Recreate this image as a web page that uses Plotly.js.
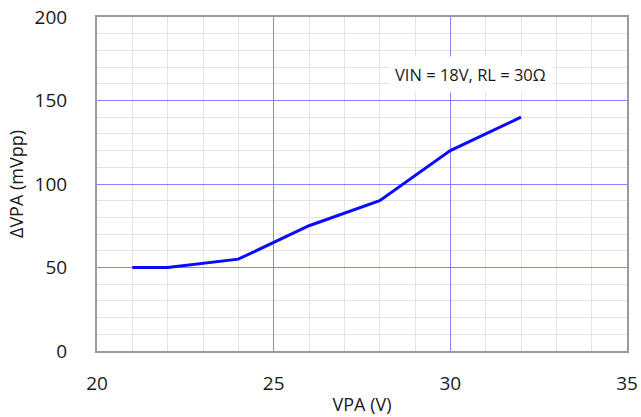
<!DOCTYPE html>
<html><head><meta charset="utf-8">
<script src="https://cdn.plot.ly/plotly-3.0.1.min.js"></script>
<style>html,body{margin:0;padding:0;background:#fff}#chart{width:641px;height:417px}</style>
</head><body><div id="chart"></div>
<script>
var vpa = [21, 22, 24, 26, 28, 30, 32];
var ripple = [50, 50, 55, 75, 90, 120, 140];
var xTicks = [20, 25, 30, 35];
var yTicks = [0, 50, 100, 150, 200];
var noteText = 'VIN = 18V, RL = 30Ω';

var font = 'Open Sans, Liberation Sans, sans-serif';
var trace = {x: vpa, y: ripple, mode: 'lines', line: {color: '#0a0aff', width: 3}, hoverinfo: 'skip'};
var layout = {
  width: 641, height: 417,
  margin: {l: 97, r: 14, t: 17, b: 66},
  paper_bgcolor: '#fff', plot_bgcolor: '#fff',
  showlegend: false,
  font: {family: font, color: '#222'},
  xaxis: {range: [20, 35], tickvals: xTicks, ticks: '', ticklabelstandoff: 14,
    tickfont: {size: 19, color: '#1a1a1a'},
    showgrid: true, gridcolor: '#8585ff', griddash: 'solid', gridwidth: 1,
    minor: {dtick: 1, showgrid: true, gridcolor: '#e3e3e3', gridwidth: 1, griddash: 'solid'},
    showline: true, linecolor: '#9a9a9a', linewidth: 2, mirror: true, zeroline: false,
    title: {text: 'VPA (V)', font: {size: 18, color: '#1a1a1a'}, standoff: 4}},
  yaxis: {range: [0, 200], tickvals: yTicks, ticks: '', ticklabelstandoff: 24,
    tickfont: {size: 19, color: '#1a1a1a'},
    showgrid: true, gridcolor: '#8585ff', griddash: 'solid', gridwidth: 1,
    minor: {dtick: 10, showgrid: true, gridcolor: '#e3e3e3', gridwidth: 1, griddash: 'solid'},
    showline: true, linecolor: '#9a9a9a', linewidth: 2, mirror: true, zeroline: false,
    title: {text: 'ΔVPA (mVpp)', font: {size: 18, color: '#1a1a1a'}, standoff: 6}},
  annotations: [{x: 30.56, y: 165.3, xref: 'x', yref: 'y', text: noteText, showarrow: false,
    font: {size: 16.5, color: '#1a1a1a', family: font}, bgcolor: '#ffffff', borderpad: 6}]
};
Plotly.newPlot('chart', [trace], layout, {displayModeBar: false, staticPlot: true});
</script></body></html>
